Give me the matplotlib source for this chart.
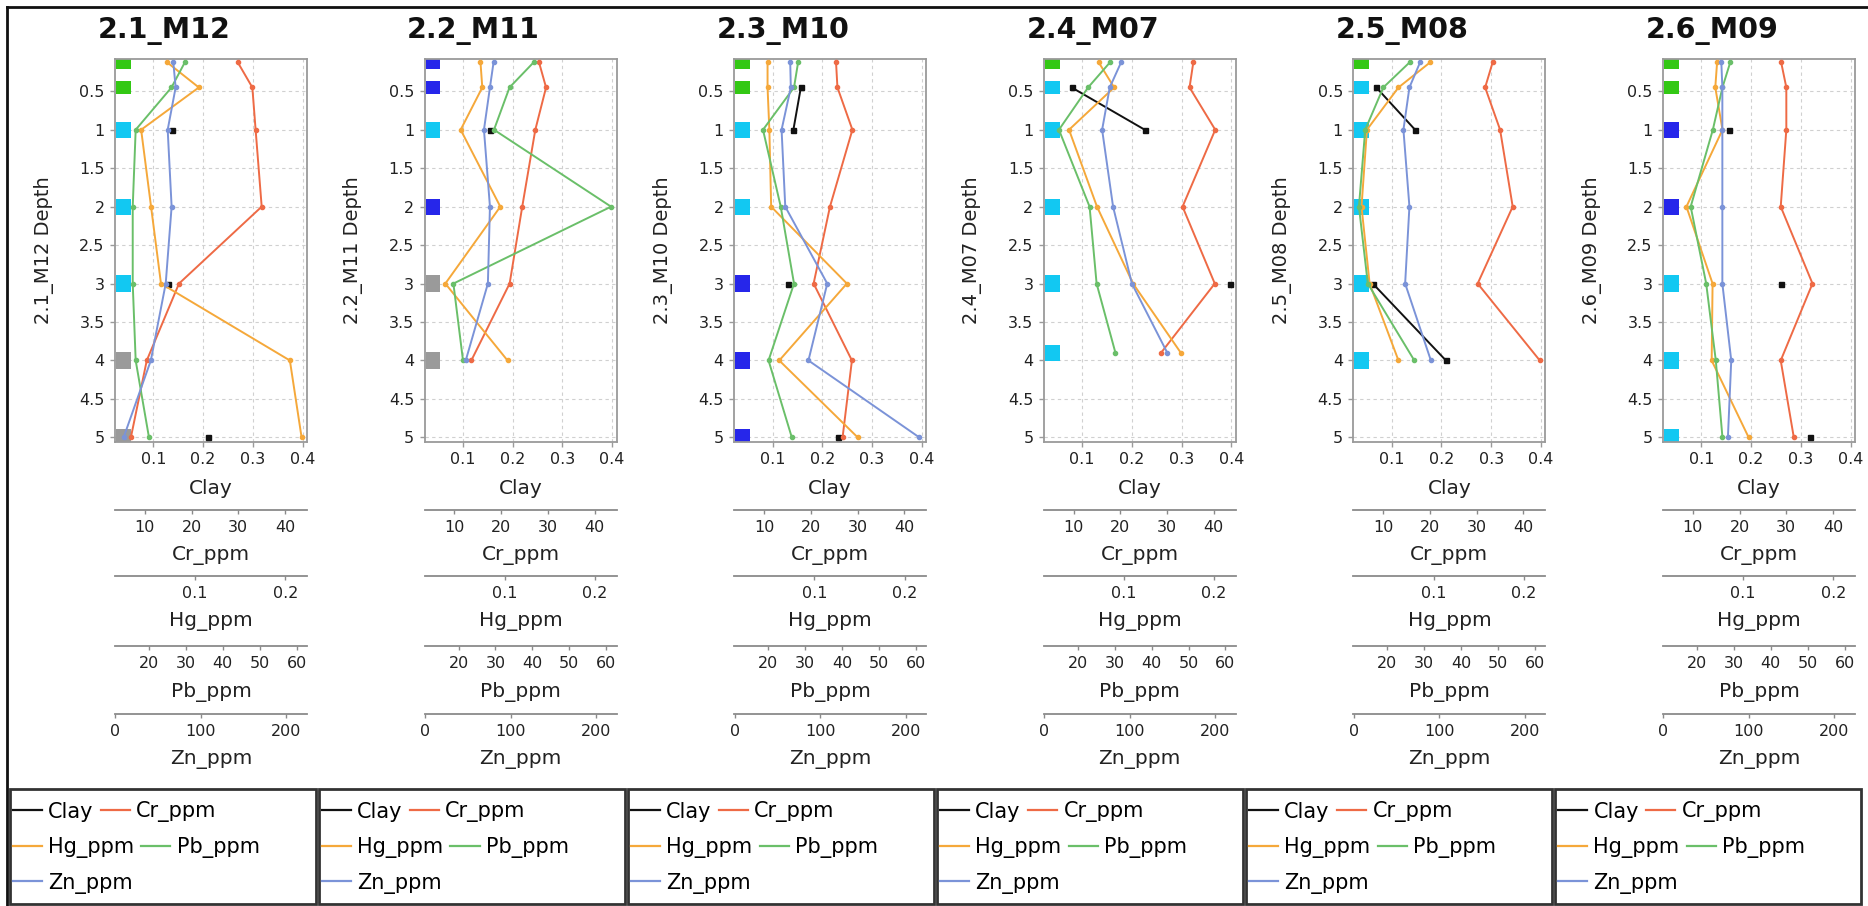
import numpy as np
import matplotlib
matplotlib.use("Agg")
import matplotlib.pyplot as plt
from matplotlib.patches import Rectangle
from matplotlib.lines import Line2D
import matplotlib.transforms as mtransforms

plt.rcParams['font.family'] = ['DejaVu Sans']

nan = np.nan

# ---------------- data ----------------
sites = ["2.1_M12", "2.2_M11", "2.3_M10", "2.4_M07", "2.5_M08", "2.6_M09"]

depth = [
    [0.125, 0.45, 1, 2, 3, 4, 5],
    [0.125, 0.45, 1, 2, 3, 4],
    [0.125, 0.45, 1, 2, 3, 4, 5],
    [0.125, 0.45, 1, 2, 3, 3.9],
    [0.125, 0.45, 1, 2, 3, 4],
    [0.125, 0.45, 1, 2, 3, 4, 5],
]

clay = [
    [nan, nan, 0.137, nan, 0.129, nan, 0.209],
    [nan, nan, 0.154, nan, nan, nan],
    [nan, 0.157, 0.142, nan, 0.132, nan, 0.231],
    [nan, 0.079, 0.226, nan, 0.398, nan],
    [nan, 0.069, 0.147, nan, 0.062, 0.209],
    [nan, nan, 0.155, nan, 0.261, nan, 0.319],
]

cr_ppm = [
    [29.9, 33.0, 33.7, 35.0, 17.3, 10.4, 7.0],
    [28.1, 29.6, 27.3, 24.5, 21.8, 13.6],
    [25.4, 25.7, 28.9, 24.1, 20.6, 28.8, 26.8],
    [35.6, 34.8, 40.3, 33.3, 40.2, 28.7],
    [33.4, 31.8, 35.0, 37.7, 30.2, 43.5],
    [28.9, 30.0, 30.0, 28.8, 35.6, 28.8, 31.6],
]

hg_ppm = [
    [0.069, 0.104, 0.040, 0.051, 0.062, 0.205, 0.218],
    [0.073, 0.075, 0.051, 0.095, 0.034, 0.103],
    [0.048, 0.048, 0.050, 0.052, 0.136, 0.061, 0.148],
    [0.072, 0.089, 0.039, 0.070, 0.110, 0.163],
    [0.096, 0.061, 0.026, 0.020, 0.029, 0.061],
    [0.071, 0.069, 0.077, 0.037, 0.066, 0.065, 0.106],
]

pb_ppm = [
    [29.7, 26.1, 16.4, 15.6, 15.6, 16.4, 20.0],
    [40.3, 33.8, 29.6, 61.3, 18.6, 21.2],
    [28.1, 27.0, 18.6, 23.4, 27.0, 20.1, 26.4],
    [28.7, 22.8, 14.9, 23.2, 25.1, 30.2],
    [26.0, 18.9, 14.0, 12.3, 14.7, 27.3],
    [29.0, 26.9, 24.3, 18.3, 22.5, 25.1, 26.9],
]

zn_ppm = [
    [67.7, 70.4, 61.1, 65.7, 58.8, 41.4, 9.6],
    [80.1, 75.9, 68.9, 75.9, 73.5, 47.6],
    [65.0, 65.7, 54.9, 59.2, 108.3, 86.3, 215.9],
    [89.8, 76.6, 67.7, 80.5, 102.5, 143.9],
    [77.4, 65.0, 58.0, 65.0, 60.0, 90.1],
    [67.7, 68.9, 68.9, 68.9, 68.9, 79.3, 75.4],
]

# sample class shown as coloured blocks at the left edge
sample_class = [
    ["G", "G", "C", "C", "C", "K", "K"],
    ["B", "B", "C", "B", "K", "K"],
    ["G", "G", "C", "C", "B", "B", "B"],
    ["G", "C", "C", "C", "C", "C"],
    ["G", "C", "C", "C", "C", "C"],
    ["G", "G", "B", "B", "C", "C", "C"],
]

var_names = ["Clay", "Cr_ppm", "Hg_ppm", "Pb_ppm", "Zn_ppm"]
var_ticks = [[0.1, 0.2, 0.3, 0.4], [10, 20, 30, 40], [0.1, 0.2],
             [20, 30, 40, 50, 60], [0, 100, 200]]
depth_ticks = [0.5, 1, 1.5, 2, 2.5, 3, 3.5, 4, 4.5, 5]

# ---------------- style ----------------
var_data = [clay, cr_ppm, hg_ppm, pb_ppm, zn_ppm]
var_colors = ["#111111", "#ee6a45", "#f5a83a", "#6abf69", "#7b93d8"]
var_limits = [(0.023, 0.409), (3.6, 44.7), (0.011, 0.224), (10.8, 62.8), (-0.5, 224)]
var_offsets = [0, 49, 96.5, 147, 196]  # points below the plot
class_colors = {"G": "#33c814", "C": "#12c8f2", "B": "#2626ea", "K": "#9a9a9a"}

W, H = 1868, 906
fig = plt.figure(figsize=(W / 100, H / 100), dpi=100)

ax_left0 = 115
ax_step = 309.6
ax_w = 192
ax_top = 59
ax_bot = 442
spine_col = "#9a9a9a"
tick_fs = 11.5
label_fs = 14.5

for i, site in enumerate(sites):
    left = ax_left0 + ax_step * i
    ax = fig.add_axes([left / W, 1 - ax_bot / H, ax_w / W, (ax_bot - ax_top) / H])
    ax.set_ylim(5.06, 0.08)
    ax.set_xlim(*var_limits[0])
    ax.set_yticks(depth_ticks)
    ax.set_yticklabels([f"{t:g}" for t in depth_ticks])
    ax.set_xticks(var_ticks[0])
    ax.set_xticklabels([f"{t:g}" for t in var_ticks[0]])
    ax.grid(True, color="#d0d0d0", linestyle=(0, (3, 3)), linewidth=0.8)
    ax.set_axisbelow(True)
    for s in ax.spines.values():
        s.set_color(spine_col)
        s.set_linewidth(1.3)
    ax.tick_params(axis="both", length=3.5, width=1, color=spine_col,
                   labelsize=tick_fs, labelcolor="#222222", pad=4)
    ax.set_ylabel(f"{site} Depth", fontsize=14, color="#222222")
    ax.yaxis.set_label_coords(-0.32, 0.5)
    ax.set_xlabel(var_names[0], fontsize=label_fs, color="#222222", labelpad=8)

    d = np.array(depth[i], dtype=float)
    # coloured sample blocks
    blend = mtransforms.blended_transform_factory(ax.transAxes, ax.transData)
    for j, (dep, cls) in enumerate(zip(d, sample_class[i])):
        gaps = []
        if j > 0:
            gaps.append(dep - d[j - 1])
        if j < len(d) - 1:
            gaps.append(d[j + 1] - dep)
        h = min(0.21, 0.5 * min(gaps))
        ax.add_patch(Rectangle((0.005, dep - h / 2), 0.077, h, transform=blend,
                               facecolor=class_colors[cls], edgecolor="none",
                               zorder=2, clip_on=True))

    handles = []
    # Clay on the main axis
    ln, = ax.plot(clay[i], d, color=var_colors[0], lw=1.4, marker="s",
                  markersize=3.6, zorder=4)
    handles.append(ln)
    for k in range(1, 5):
        axn = ax.twiny()
        axn.set_ylim(5.06, 0.08)
        axn.set_xlim(*var_limits[k])
        axn.xaxis.set_ticks_position("bottom")
        axn.xaxis.set_label_position("bottom")
        for nm, s in axn.spines.items():
            s.set_visible(nm == "bottom")
        axn.spines["bottom"].set_position(("outward", var_offsets[k]))
        axn.spines["bottom"].set_color("#8a8a8a")
        axn.spines["bottom"].set_linewidth(1.3)
        axn.set_xticks(var_ticks[k])
        axn.set_xticklabels([f"{t:g}" for t in var_ticks[k]])
        axn.tick_params(axis="x", length=3, width=1, color="#8a8a8a",
                        labelsize=tick_fs, labelcolor="#222222", pad=4)
        axn.set_xlabel(var_names[k], fontsize=label_fs, color="#222222", labelpad=8)
        ln, = axn.plot(var_data[k][i], d, color=var_colors[k], lw=1.4, marker="o",
                       markersize=3, zorder=3)
        handles.append(ln)

    # title
    fig.text((164 + ax_step * i) / W, 1 - 31 / H, site, ha="center", va="center",
             fontsize=20.5, fontweight="bold", color="#111111")

    # legend box with flowing rows
    bx0 = 9.5 + 309.1 * i
    fig.add_artist(Rectangle((bx0 / W, 1 - 904 / H), 306 / W, (904 - 789) / H,
                             transform=fig.transFigure, fill=False,
                             edgecolor="#333333", linewidth=2))
    rows = [[0, 1], [2, 3], [4]]
    row_y = [812, 848, 883]
    for r, idx in enumerate(rows):
        fig.legend([handles[m] for m in idx], [var_names[m] for m in idx],
                   loc="center left", bbox_to_anchor=((bx0 + 3) / W, 1 - row_y[r] / H),
                   ncol=len(idx), frameon=False, fontsize=15,
                   handlelength=1.4, handletextpad=0.3, columnspacing=0.35,
                   borderpad=0, borderaxespad=0)

# legend handle markers removed
for lg in fig.legends:
    for h in lg.legend_handles:
        h.set_marker("")
        h.set_linewidth(1.6)

# outer frame lines
fig.add_artist(Line2D([7 / W, 1], [1 - 7 / H, 1 - 7 / H], transform=fig.transFigure,
                      color="#111111", linewidth=2))
fig.add_artist(Line2D([7 / W, 7 / W], [1 - 7 / H, 0], transform=fig.transFigure,
                      color="#111111", linewidth=2))

fig.savefig("out.png", dpi=100)
